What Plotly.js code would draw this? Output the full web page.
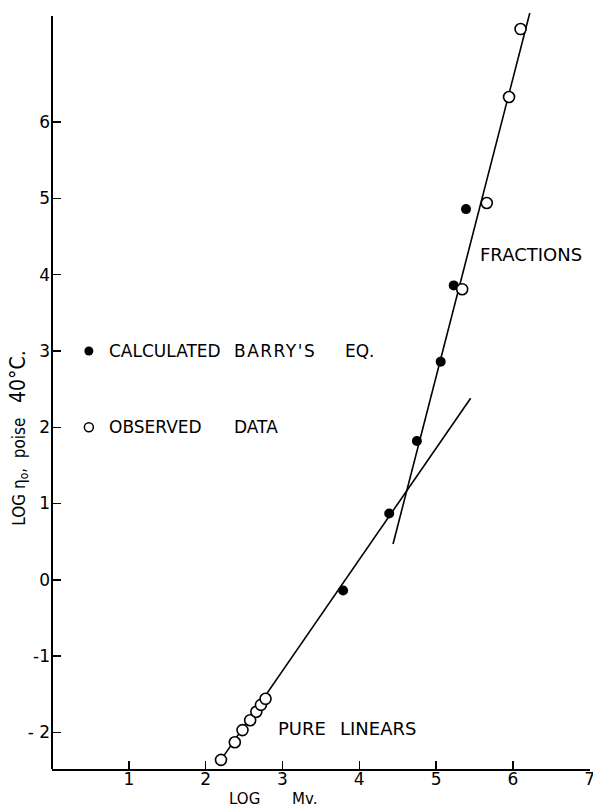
<!DOCTYPE html>
<html>
<head>
<meta charset="utf-8">
<script src="https://cdn.plot.ly/plotly-3.0.1.min.js"></script>
<style>html,body{margin:0;padding:0;background:#fff;}#chart{width:593px;height:808px;}</style>
</head>
<body>
<div id="chart"></div>
<script>
// Calculated (Barry's eq.) points
const calcX = [3.79, 4.39, 4.75, 5.06, 5.23, 5.39];
const calcY = [-0.14, 0.87, 1.82, 2.86, 3.86, 4.86];
// Observed data points
const obsX = [2.20, 2.38, 2.48, 2.58, 2.66, 2.72, 2.78, 5.34, 5.66, 5.95, 6.10];
const obsY = [-2.36, -2.13, -1.97, -1.84, -1.73, -1.64, -1.56, 3.81, 4.94, 6.33, 7.22];
// Fitted lines
const linearsLineX = [2.20, 5.45];
const linearsLineY = [-2.36, 2.38];
const fractionsLineX = [4.44, 6.22];
const fractionsLineY = [0.47, 7.43];
// Key (legend) entries drawn inside the plot
const keyCalcX = [0.48], keyCalcY = [3.0];
const keyObsX = [0.48], keyObsY = [2.0];
// Tick labels
const xTickVals = [1, 2, 3, 4, 5, 6, 7];
const xTickText = ["1", "2", "3", "4", "5", "6", "7"];
const yTickVals = [-2, -1, 0, 1, 2, 3, 4, 5, 6];
const yTickText = ["- 2", "-1", "0", "1", "2", "3", "4", "5", "6"];

const FONT = "DejaVu Sans, sans-serif";
const FONT_COND = "DejaVu Sans Condensed, DejaVu Sans, sans-serif";
const yMin = -2.48, yMax = 7.47, yAxisTop = 7.39;

const traces = [
  {x: linearsLineX, y: linearsLineY, mode: "lines", line: {color: "#000", width: 1.6}, hoverinfo: "skip"},
  {x: fractionsLineX, y: fractionsLineY, mode: "lines", line: {color: "#000", width: 1.6}, hoverinfo: "skip"},
  {x: calcX, y: calcY, mode: "markers", marker: {color: "#000", size: 10}},
  {x: obsX, y: obsY, mode: "markers", marker: {color: "#fff", size: 11, line: {color: "#000", width: 1.6}}},
  {x: keyCalcX, y: keyCalcY, mode: "markers", marker: {color: "#000", size: 9}},
  {x: keyObsX, y: keyObsY, mode: "markers", marker: {color: "#fff", size: 9, line: {color: "#000", width: 1.5}}}
];

function label(text, x, y, size) {
  return {text: text, x: x, y: y, xref: "x", yref: "y", xanchor: "left", yanchor: "middle",
          showarrow: false, font: {size: size || 17}};
}

const layout = {
  width: 593, height: 808,
  margin: {l: 52, r: 3, t: 10, b: 39},
  paper_bgcolor: "#fff", plot_bgcolor: "#fff",
  showlegend: false,
  font: {family: FONT, color: "#000", size: 17},
  xaxis: {
    range: [0, 7.004], tickmode: "array", tickvals: xTickVals, ticktext: xTickText,
    ticks: "inside", ticklen: 8, tickwidth: 1.5, tickcolor: "#000",
    showline: true, linewidth: 2, linecolor: "#000",
    showgrid: false, zeroline: false, tickfont: {size: 17}, ticklabelstandoff: -6,
    ticklabeloverflow: "allow"
  },
  yaxis: {
    range: [yMin, yMax], tickmode: "array", tickvals: yTickVals, ticktext: yTickText,
    ticks: "inside", ticklen: 9, tickwidth: 1.5, tickcolor: "#000",
    showline: false, showgrid: false, zeroline: false, tickfont: {size: 17}, ticklabelstandoff: 1
  },
  shapes: [
    {type: "line", xref: "paper", yref: "paper", x0: 0, x1: 0,
     y0: 0, y1: (yAxisTop - yMin) / (yMax - yMin), line: {color: "#000", width: 2}}
  ],
  annotations: [
    label("CALCULATED", 0.71, 3.0, 17),
    label("<span style='letter-spacing:1.5px'>BARRY'S</span>", 2.34, 3.0, 17),
    label("EQ.", 3.79, 3.0, 17),
    label("OBSERVED", 0.71, 2.0, 17),
    label("DATA", 2.34, 2.0, 17),
    label("FRACTIONS", 5.54, 4.26, 18),
    label("PURE", 2.91, -1.95, 18),
    label("LINEARS", 3.72, -1.95, 18),
    {text: "LOG", x: 2.51, y: -0.040, xref: "x", yref: "paper", xanchor: "center", yanchor: "middle", showarrow: false, font: {size: 15}},
    {text: "Mv.", x: 3.29, y: -0.040, xref: "x", yref: "paper", xanchor: "center", yanchor: "middle", showarrow: false, font: {size: 15}},
    {text: "LOG η<sub>o</sub>,&nbsp; poise&nbsp;&nbsp; <span style='font-size:21px'>40°C.</span>", x: -0.062, y: 0.436, xref: "paper", yref: "paper", xanchor: "center", yanchor: "middle", textangle: -90, showarrow: false, font: {family: FONT_COND, size: 17}}
  ]
};

Plotly.newPlot("chart", traces, layout, {staticPlot: true, displayModeBar: false});
</script>
</body>
</html>
